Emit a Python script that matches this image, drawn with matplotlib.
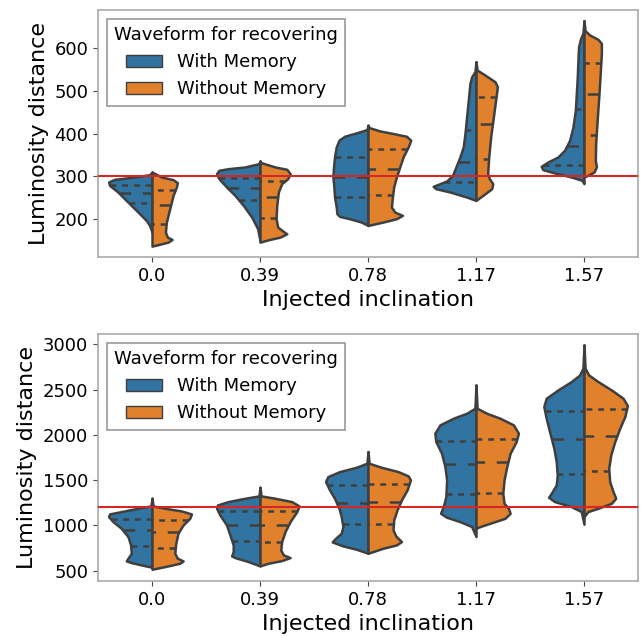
import numpy as np
import matplotlib.pyplot as plt
from matplotlib.patches import Patch

inclinations = ['0.0', '0.39', '0.78', '1.17', '1.57']
hue_labels = ['With Memory', 'Without Memory']
colors = ['#3274a1', '#e1812c']
edge = '#3f3f3f'

# half-violin profiles: y values and half widths (category units)
top_mem_y = [
    [309.6, 303.4, 298, 292.4, 286.2, 278.3, 262.6, 239, 215.6, 196, 184, 168.5],
    [335.6, 329.3, 321.5, 317.5, 313.6, 305.8, 294, 274.4, 254.8, 231.3, 203.8, 176.4, 149],
    [419.5, 409.3, 401.5, 393.6, 384.2, 368.5, 345, 321.5, 298, 274.4, 250.9, 227.4, 211.7, 205.4, 199.9, 192.1, 184.2],
    [568.5, 545, 533.3, 517.6, 478.4, 439.1, 400, 368.5, 345, 321.5, 301.9, 288.5, 280.7, 276, 270.5, 262.7, 250.9, 243],
    [665, 635.2, 623.4, 603.8, 572.5, 533.2, 494, 454.8, 415.6, 384.2, 360.7, 345, 333.2, 323, 315.2, 307.4, 298, 290.1, 282.3],
]
top_mem_w = [
    [0, 0.02, 0.161, 0.347, 0.402, 0.393, 0.316, 0.223, 0.130, 0.053, 0.022, 0],
    [0, 0.01, 0.139, 0.294, 0.381, 0.402, 0.381, 0.310, 0.232, 0.155, 0.077, 0.022, 0],
    [0, 0.01, 0.108, 0.217, 0.269, 0.294, 0.310, 0.319, 0.325, 0.316, 0.310, 0.294, 0.288, 0.263, 0.170, 0.062, 0],
    [0, 0.01, 0.040, 0.056, 0.071, 0.087, 0.102, 0.118, 0.149, 0.186, 0.217, 0.272, 0.350, 0.397, 0.372, 0.241, 0.087, 0],
    [0, 0.01, 0.031, 0.050, 0.056, 0.062, 0.071, 0.080, 0.102, 0.133, 0.180, 0.241, 0.334, 0.396, 0.381, 0.272, 0.118, 0.019, 0],
]
top_nomem_y = [
    [309.6, 298, 291.7, 284.6, 274.4, 254.8, 223.4, 192.1, 168.5, 156.8, 151.3, 145, 137.1, 135.6],
    [335.6, 331.7, 321.5, 316, 305.8, 294, 282.3, 262.6, 231.3, 200, 180.3, 170, 164.6, 156.8, 150.5, 145],
    [419.5, 414, 406.2, 400, 393.6, 384.2, 368.5, 345, 321.5, 298, 274.4, 250.9, 227.4, 215.6, 207.8, 199.9, 192.1, 184.2],
    [568.5, 549, 537.2, 521.5, 509.7, 486.2, 439.1, 392.1, 345, 305.8, 294, 282.3, 270.5, 258.7, 243],
    [665, 641.5, 631.3, 621.1, 611.7, 588.1, 548.9, 494, 439.1, 376.4, 337.2, 321.5, 309.7, 301.9, 298],
]
top_nomem_w = [
    [0, 0.087, 0.195, 0.235, 0.226, 0.195, 0.164, 0.133, 0.124, 0.142, 0.186, 0.149, 0.025, 0],
    [0, 0.01, 0.139, 0.248, 0.279, 0.257, 0.201, 0.170, 0.155, 0.149, 0.164, 0.217, 0.248, 0.186, 0.077, 0],
    [0, 0.01, 0.108, 0.232, 0.356, 0.396, 0.372, 0.325, 0.294, 0.263, 0.238, 0.226, 0.217, 0.248, 0.319, 0.263, 0.139, 0],
    [0, 0.01, 0.084, 0.176, 0.198, 0.186, 0.161, 0.136, 0.118, 0.108, 0.124, 0.155, 0.146, 0.084, 0],
    [0, 0.01, 0.053, 0.130, 0.161, 0.161, 0.152, 0.139, 0.124, 0.108, 0.105, 0.115, 0.093, 0.037, 0],
]
top_mem_quart = [[278.3, 260.3, 237.5], [295.6, 272.8, 243.8], [345, 298, 251],
                 [409.3, 332.5, 286.2], [456.4, 370.1, 325.4]]
top_nomem_quart = [[266.6, 232.8, 186.6], [288.5, 250.9, 202.3], [363, 316.8, 254.8],
                   [486.2, 423.5, 340.3], [566.2, 491.7, 397.5]]

bot_mem_y = [
    [1300, 1215.2, 1189.5, 1152.7, 1126.9, 1097.4, 1042.2, 968.6, 876.6, 784.5, 692.5, 637.3, 607.9, 589.5, 563.7, 538],
    [1421, 1325.7, 1300, 1263.1, 1226.3, 1189.5, 1115.9, 1005.4, 895, 784.5, 710.9, 663, 644.7, 600.5, 552.7],
    [1815, 1686.4, 1642.1, 1594.3, 1539.1, 1483.9, 1391.9, 1299.9, 1189.5, 1097.4, 987, 913.4, 847.1, 817.7, 773.5, 736.7, 692.5],
    [2551, 2293.7, 2238.5, 2183.3, 2110, 2017.6, 1925.6, 1796.8, 1649.5, 1502.3, 1318.3, 1207.8, 1134.2, 1090, 1042.2, 987, 876.6],
    [2993, 2735.4, 2661.8, 2588.2, 2496.1, 2404.1, 2312.1, 2183.2, 2036, 1852, 1704.7, 1557.5, 1447, 1355, 1310.8, 1263, 1207.8, 1152.6, 1012.7],
]
bot_mem_w = [
    [0, 0.01, 0.130, 0.285, 0.393, 0.402, 0.362, 0.285, 0.223, 0.198, 0.192, 0.223, 0.238, 0.192, 0.099, 0],
    [0, 0.01, 0.139, 0.294, 0.393, 0.402, 0.372, 0.310, 0.279, 0.248, 0.248, 0.263, 0.232, 0.108, 0],
    [0, 0.01, 0.108, 0.263, 0.372, 0.393, 0.356, 0.310, 0.269, 0.248, 0.232, 0.248, 0.310, 0.331, 0.232, 0.108, 0],
    [0, 0.01, 0.087, 0.211, 0.334, 0.381, 0.372, 0.319, 0.288, 0.272, 0.279, 0.303, 0.328, 0.272, 0.149, 0.040, 0],
    [0, 0.01, 0.040, 0.118, 0.241, 0.350, 0.372, 0.350, 0.319, 0.279, 0.257, 0.248, 0.257, 0.303, 0.328, 0.272, 0.118, 0.025, 0],
]
bot_nomem_y = [
    [1300, 1215.2, 1189.5, 1160, 1126.9, 1079, 1005.4, 913.4, 803, 692.5, 637.3, 607.9, 582.1, 552.7, 515.9],
    [1421, 1325.7, 1300, 1263.1, 1215.2, 1152.7, 1042.2, 931.8, 821.4, 729.3, 674.1, 644.7, 611.6, 582.1, 552.7],
    [1815, 1686.4, 1642.1, 1594.3, 1546.5, 1502.3, 1391.9, 1281.5, 1171, 1060.6, 950.2, 883.9, 821.4, 784.5, 747.7, 692.5],
    [2551, 2293.7, 2238.5, 2183.3, 2110, 2017.6, 1925.6, 1796.8, 1649.5, 1502.3, 1355, 1244.6, 1189.5, 1134.2, 1079, 1023.8, 987, 968.6],
    [2993, 2735.4, 2661.8, 2588.2, 2496.1, 2404.1, 2323.1, 2201.7, 2072.8, 1925.6, 1778.3, 1631.1, 1483.9, 1373.4, 1299.8, 1244.6, 1189.5, 1152.6, 1097.4],
]
bot_nomem_w = [
    [0, 0.01, 0.118, 0.272, 0.365, 0.350, 0.288, 0.241, 0.220, 0.211, 0.235, 0.288, 0.257, 0.149, 0],
    [0, 0.01, 0.139, 0.294, 0.362, 0.341, 0.279, 0.232, 0.201, 0.192, 0.217, 0.279, 0.201, 0.077, 0],
    [0, 0.01, 0.124, 0.279, 0.372, 0.393, 0.362, 0.310, 0.269, 0.238, 0.232, 0.257, 0.310, 0.263, 0.139, 0],
    [0, 0.01, 0.099, 0.223, 0.347, 0.393, 0.372, 0.316, 0.285, 0.260, 0.248, 0.260, 0.300, 0.316, 0.269, 0.130, 0.037, 0],
    [0, 0.01, 0.043, 0.130, 0.254, 0.362, 0.402, 0.378, 0.331, 0.285, 0.248, 0.229, 0.238, 0.269, 0.294, 0.254, 0.130, 0.037, 0],
]
bot_mem_quart = [[1071.7, 950.2, 777.2], [1160, 1009, 828.8], [1447, 1252, 1012.7],
                 [1936.7, 1675.3, 1347.7], [2264.2, 1951.4, 1568.5]]
bot_nomem_quart = [[1060.6, 924.5, 747.8], [1160, 1005, 814], [1454.5, 1263, 1016.4],
                   [1951.4, 1704.7, 1355], [2286.3, 1988.1, 1601.6]]

injected = [300, 1200]
ylims = [(110, 690), (386, 3114)]
lw = 1.8

plt.rcParams['font.family'] = 'DejaVu Sans'
fig = plt.figure(figsize=(6.41, 6.37), dpi=100)
ax_top = fig.add_axes([0.1529, 0.5965, 0.8424, 0.3878])
ax_bot = fig.add_axes([0.1529, 0.0879, 0.8424, 0.3878])


def draw_half(ax, pos, ys, ws, quarts, side, color):
    ys = np.asarray(ys, dtype=float)
    ws = np.asarray(ws, dtype=float)
    ax.fill_betweenx(ys, pos, pos + side * ws, facecolor=color, edgecolor=edge,
                     linewidth=lw, joinstyle='round', zorder=2)
    order = np.argsort(ys)
    for k, q in enumerate(quarts):
        h = np.interp(q, ys[order], ws[order])
        dash = [lw * 2.6] * 2 if k == 1 else [lw * 1.3] * 2
        ax.plot([pos + side * h, pos], [q, q], color=edge, linewidth=lw,
                dashes=dash, zorder=3)


panels = [
    (ax_top, top_mem_y, top_mem_w, top_mem_quart, top_nomem_y, top_nomem_w, top_nomem_quart),
    (ax_bot, bot_mem_y, bot_mem_w, bot_mem_quart, bot_nomem_y, bot_nomem_w, bot_nomem_quart),
]

for p, (ax, my, mw, mq, ny, nw, nq) in enumerate(panels):
    for i in range(len(inclinations)):
        draw_half(ax, i, my[i], mw[i], mq[i], -1, colors[0])
        draw_half(ax, i, ny[i], nw[i], nq[i], 1, colors[1])
    ax.axhline(injected[p], color='#d62728', linewidth=1.5, zorder=4)
    ax.set_xlim(-0.5, len(inclinations) - 0.5)
    ax.set_ylim(*ylims[p])
    ax.set_xticks(range(len(inclinations)))
    ax.set_xticklabels(inclinations)
    ax.tick_params(labelsize=13, color='#444444')
    for s in ax.spines.values():
        s.set_color('#aaaaaa')
        s.set_linewidth(1.2)
    ax.set_xlabel('Injected inclination', fontsize=16)
    ax.set_ylabel('Luminosity distance', fontsize=16)
    handles = [Patch(facecolor=c, edgecolor=edge, linewidth=1.0) for c in colors]
    leg = ax.legend(handles, hue_labels, title='Waveform for recovering', loc='upper left',
                    fontsize=13, title_fontsize=13, fancybox=False, edgecolor='#999999',
                    framealpha=1.0)
    leg.get_frame().set_linewidth(1.2)

ax_top.set_yticks([200, 300, 400, 500, 600])
ax_bot.set_yticks([500, 1000, 1500, 2000, 2500, 3000])

fig.savefig('out.png', dpi=100)
